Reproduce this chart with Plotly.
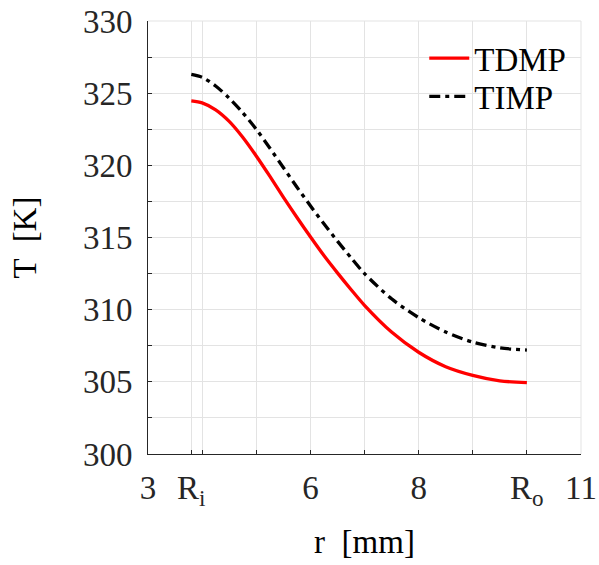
import plotly.graph_objects as go

# Data
r_tdmp = [3.8, 4.0, 4.25, 4.5, 4.75, 5.0, 5.25, 5.5, 5.75, 6.0, 6.25, 6.5, 6.75, 7.0, 7.5, 8.0, 8.5, 9.0, 9.5, 10.0]
T_tdmp = [324.47, 324.33, 323.85, 323.05, 321.95, 320.65, 319.25, 317.8, 316.4, 315.05, 313.75, 312.55, 311.4, 310.3, 308.45, 307.05, 306.05, 305.45, 305.07, 304.94]
r_timp = [3.8, 4.0, 4.25, 4.5, 4.75, 5.0, 5.25, 5.5, 5.75, 6.0, 6.25, 6.5, 6.75, 7.0, 7.5, 8.0, 8.5, 9.0, 9.5, 10.0]
T_timp = [326.3, 326.1, 325.5, 324.65, 323.65, 322.5, 321.2, 319.85, 318.5, 317.2, 315.95, 314.75, 313.6, 312.5, 310.75, 309.45, 308.45, 307.75, 307.35, 307.2]

x_tickvals = [3, 3.8, 4, 5, 6, 7, 8, 9, 10, 11]
x_ticktext = ["3", "R<sub>i</sub>", "", "", "6", "", "8", "", "R<sub>o</sub>", "11"]
y_tickvals = [300, 302.5, 305, 307.5, 310, 312.5, 315, 317.5, 320, 322.5, 325, 327.5, 330]
y_ticktext = ["300", "", "305", "", "310", "", "315", "", "320", "", "325", "", "330"]

FONT = "Liberation Serif"
fs = 33
axis_col = "#262626"
grid_col = "#e3e3e3"

fig = go.Figure()
fig.add_trace(go.Scatter(x=r_tdmp, y=T_tdmp, mode="lines", name="TDMP", legend="legend",
                         line=dict(color="#ff0000", width=3.3, shape="spline", smoothing=0.8)))
fig.add_trace(go.Scatter(x=r_timp, y=T_timp, mode="lines", name="TIMP", legend="legend2",
                         line=dict(color="#000000", width=3.3, shape="spline", smoothing=0.8,
                                   dash="11px,5px,4px,5px")))

leg_common = dict(xanchor="left", yanchor="middle", bgcolor="rgba(0,0,0,0)",
                  font=dict(family=FONT, size=fs, color="#000"), itemwidth=40)
fig.update_layout(
    width=599, height=565,
    margin=dict(l=148, r=18, t=21, b=111),
    paper_bgcolor="white", plot_bgcolor="white",
    font=dict(family=FONT, size=fs, color=axis_col),
    showlegend=True,
    legend=dict(x=0.638, y=0.914, **leg_common),
    legend2=dict(x=0.638, y=0.826, **leg_common),
)
fig.update_xaxes(range=[3, 11], tickmode="array", tickvals=x_tickvals, ticktext=x_ticktext,
                 showgrid=True, gridcolor=grid_col, gridwidth=1, automargin=False,
                 showline=True, linecolor=axis_col, linewidth=1, mirror=False,
                 ticks="inside", ticklen=4, tickcolor=axis_col, zeroline=False,
                 ticklabelstandoff=4,
                 title=dict(text="r  [mm]", font=dict(family=FONT, size=fs, color="#000"), standoff=20))
fig.update_yaxes(range=[300, 330], tickmode="array", tickvals=y_tickvals, ticktext=y_ticktext,
                 showgrid=True, gridcolor=grid_col, gridwidth=1, automargin=False,
                 showline=True, linecolor=axis_col, linewidth=1, mirror=False,
                 ticks="inside", ticklen=4, tickcolor=axis_col, zeroline=False,
                 ticklabelstandoff=8,
                 title=dict(text="T  [K]", font=dict(family=FONT, size=fs, color="#000"), standoff=36))

# light top/right frame in grid colour (as in reference)
fig.add_shape(type="line", xref="paper", yref="paper", x0=0, x1=1, y0=1, y1=1,
              line=dict(color=grid_col, width=1))
fig.add_shape(type="line", xref="paper", yref="paper", x0=1, x1=1, y0=0, y1=1,
              line=dict(color=grid_col, width=1))

fig.write_html("out.html")
